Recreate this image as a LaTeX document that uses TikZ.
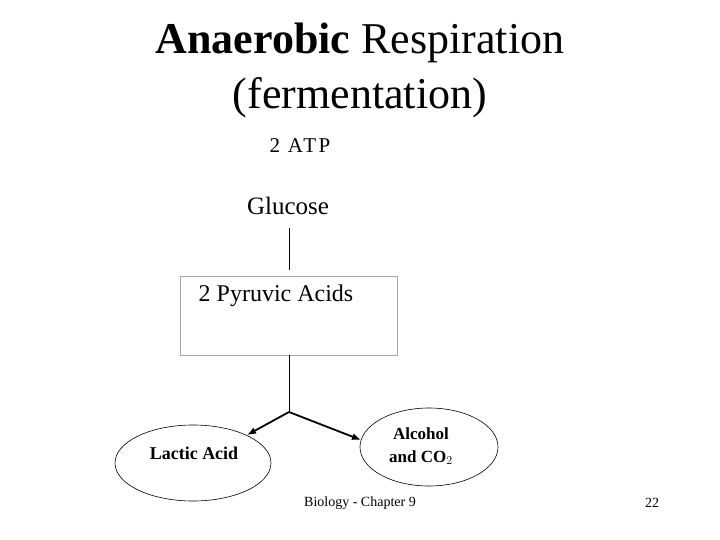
\documentclass[tikz,border=0pt]{standalone}
\usepackage{fontspec}
\setmainfont{Liberation Serif}
\usetikzlibrary{shapes.geometric,arrows.meta}
\begin{document}
\begin{tikzpicture}[x=1pt,y=-1pt,
  ell/.style={draw,ellipse,line width=0.6pt},
  con/.style={line width=0.6pt},
  arr/.style={line width=1.8pt,-{Latex[length=9pt,width=7pt]}}]
\useasboundingbox (0,0) rectangle (720,540);
\node[font=\fontsize{44}{55}\selectfont,align=center] (title) at (360,70) {\textbf{Anaerobic} Respiration\\(fermentation)};
\node[font=\fontsize{21}{24}\selectfont\addfontfeature{LetterSpace=12}] (atp) at (300,146) {2 ATP};
\node[font=\fontsize{25}{28}\selectfont] (glu) at (288,206) {Glucose};
\draw[draw=gray!70,line width=1pt] (180,276) rectangle (397,355);
\node[font=\fontsize{24}{27}\selectfont] (pyr) at (276,296) {2 Pyruvic Acids};
\coordinate (gtop) at (289,228);
\coordinate (btop) at (289,270);
\coordinate (bbot) at (289,355);
\coordinate (j) at (289,412);
\draw[con] (gtop) -- (btop);
\draw[con] (bbot) -- (j);
\node[ell,minimum width=156pt,minimum height=76pt] (lac) at (193,463) {};
\node[font=\bfseries\fontsize{18}{20}\selectfont] at (194,453) {Lactic Acid};
\node[ell,minimum width=138pt,minimum height=78pt] (alc) at (429,447) {};
\node[align=center,font=\bfseries\fontsize{17}{23}\selectfont] at (421,446) {Alcohol\\and CO$_2$};
\draw[arr] (j) -- (247,435);
\draw[arr] (j) -- (361,440);
\node[font=\fontsize{14}{16}\selectfont] (foot) at (360,503) {Biology - Chapter 9};
\node[font=\fontsize{14}{16}\selectfont] (num) at (652,503) {22};
\end{tikzpicture}
\end{document}
